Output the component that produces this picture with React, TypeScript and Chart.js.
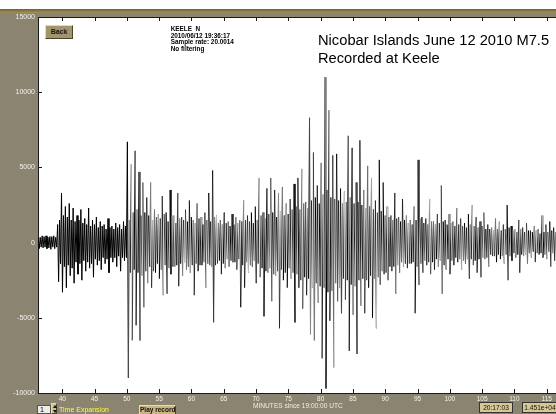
import React, { useEffect, useRef } from 'react';
import { Chart, registerables } from 'chart.js';

Chart.register(...registerables);

// Seismogram KEELE N, start 19:36:17 UTC; counts, one value every 0.15 min
const startMinute = 36.28;
const sampleStep = 0.15;

const preEvent = [300, -400, 350, -300, 450, -350, 400, -300, 450, -400, 350, -350, 400, -450, 400, -300, 450, -400, 350, -300];
const pWave = [1200, -2600, 1500, -1400, 3300, -3300, 1800, -1600, 2400, -3000, 1700, -1500, 2600, -2200, 1500, -1700, 2300, -2700, 1400, -1300, 1800, -2100, 1500, -1400, 2200, -2500, 1300, -1200, 1600, -1900, 1200, -1300, 2300, -1700, 1100, -1400, 1500, -2300, 1200, -1100, 1700, -1500, 1000, -1200, 1400, -1800, 1100, -1000, 1200, -1400, 900, -1100, 1600, -2000, 1000, -1000, 1100, -1300, 900, -1000, 1300, -1600, 1000, -900, 1200, -1900, 900, -1000];
const sWave = [1400, -1200, 1100, -1000, 6700, -9000, 1500, -2000, 5200, -6500, 2000, -1800, 6100, -5500, 2200, -2000, 4700, -6500, 1800, -2200, 4000, -4300, 2000, -1900];
const sCoda = [3000, -2700, 1800, -1600, 4000, -3000, 1500, -1900, 2200, -2000, 1700, -1400, 1900, -2400, 1600, -1800, 3100, -3500, 1900, -1500, 2000, -3400, 1400, -1700, 3500, -2100, 1800, -1600, 1800, -1600, 1300, -1500, 3300, -2900, 1600, -1400, 1700, -2200, 1500, -1300, 2200, -1800, 1400, -1600, 2800, -2000, 1700, -1500, 1500, -3500, 1300, -1400, 2600, -1900, 1600, -1500, 1700, -1500, 1200, -1300, 2000, -3000, 1500, -1400, 3300, -1500, 1400, -1600, 4800, -5300, 1700, -1500, 1800, -1400, 1300, -1200, 1500, -2100, 1200, -1400, 2000, -1700, 1300, -1100, 1400, -1600, 1100, -1200, 1900, -1300, 1200, -1300, 1700, -1800, 1300, -1100, 1500, -4300, 1400, -1500, 2800, -3000, 1500, -1300, 1800, -2000, 1400, -1500];
const surfaceWave = [2000, -1600, 1300, -1200, 2400, -2700, 1500, -1400, 4300, -2300, 1800, -1700, 2000, -4900, 1600, -1900, 3600, -2000, 1900, -1700, 4300, -3900, 2000, -2100, 3500, -2200, 1700, -1900, 3300, -5700, 2100, -1800, 3700, -2500, 1800, -2000, 2600, -3000, 1900, -1700, 2900, -2400, 2200, -2000, 3900, -5300, 2400, -2100, 4300, -3000, 2200, -2500, 4900, -4400, 2600, -2300, 2700, -3500, 2300, -2400, 8300, -6100, 2800, -3000, 6000, -6500, 3000, -2700, 3800, -4000, 2600, -2900, 5300, -7700, 3200, -3000, 11000, -9700, 3500, -3300, 8800, -5200, 3000, -3200, 5800, -8300, 2900, -2700, 5900, -3900, 2800, -3000, 3600, -4700, 2600, -2400, 3400, -3800, 2700, -2500, 7100, -7200, 3000, -2800, 6300, -4800, 2600, -2900, 4000, -7400, 2700, -2500, 6800];
const decay = [-4200, 2500, -2400, 3500, -4700, 2300, -2500, 5100, -3000, 2400, -2200, 4300, -5000, 2200, -2400, 2800, -5700, 2000, -2300, 5500, -2800, 2100, -1900, 4000, -2100, 1800, -2000, 2400, -2500, 1700, -1600, 1800, -1900, 1500, -1600, 3300, -3400, 1600, -1500, 1700, -2000, 1400, -1300, 2900, -1600, 1500, -1400, 1800, -1700, 1300, -1400, 1500, -1400, 1200, -1300, 2400, -4700, 1500, -1600, 5500, -2800, 1600, -1400, 1700, -2000, 1300, -1200, 1600, -1500, 1200, -1300, 2900, -2100, 1400, -1300, 1400, -1800, 1200, -1100, 1900, -1600, 1300, -1200, 3800, -3400, 1400, -1500, 1500, -1800, 1200, -1100, 1900, -2100, 1300, -1200, 1400, -1500, 1100, -1000, 2300, -1300, 1200, -1100, 1600, -1800, 1100, -1200, 1300, -1400, 1000, -1100];
const coda = [1900, -2400, 1200, -1100, 2500, -1500, 1100, -1200, 1700, -2000, 1000, -1100, 1400, -2300, 1100, -1000, 2000, -1100, 900, -1000, 1200, -1600, 900, -800, 1000, -900, 800, -900, 1600, -1300, 900, -800, 1400, -1100, 800, -900, 1200, -1400, 900, -800, 2500, -2500, 1000, -900, 1100, -1200, 800, -700, 900, -1000, 700, -800, 1500, -2000, 900, -800, 1000, -900, 700, -800, 1300, -1400, 800, -700, 800, -1000, 700, -600, 1100, -1300, 800, -700, 900, -800, 600, -700, 1800, -1000, 700, -800, 1200, -1100, 700, -600, 1400, -1600, 800, -700, 1000, -1200, 700, -600, 900, -1100, 600, -700, 1000, -900, 700, -600, 1100, -1000, 600, -700, 800, -1000, 600, -500];

const xTicks = [40, 45, 50, 55, 60, 65, 70, 75, 80, 85, 90, 95, 100, 105, 110, 115];
const yTicks = [-10000, -5000, 0, 5000, 10000, 15000];

const traceShades = ['#000000', '#6e6e6e', '#1a1a1a', '#a8a8a8', '#000000', '#4a4a4a', '#8c8c8c', '#262626', '#c4c4c4', '#3a3a3a', '#7a7a7a'];

const framePlugin = {
  id: 'frame',
  beforeDraw(chart: any) {
    const { ctx, chartArea: a } = chart;
    ctx.save();
    ctx.fillStyle = '#ffffff';
    ctx.fillRect(a.left, a.top, a.right - a.left, a.bottom - a.top);
    ctx.restore();
  },
  afterDraw(chart: any) {
    const { ctx, chartArea: a, scales } = chart;
    ctx.save();
    ctx.strokeStyle = '#1a1a1a';
    ctx.lineWidth = 1;
    ctx.beginPath();
    for (const v of xTicks) {
      const px = Math.round(scales.x.getPixelForValue(v)) + 0.5;
      ctx.moveTo(px, a.bottom);
      ctx.lineTo(px, a.bottom - 4);
      ctx.moveTo(px, a.top);
      ctx.lineTo(px, a.top + 4);
    }
    for (const v of yTicks) {
      const py = Math.round(scales.y.getPixelForValue(v)) + 0.5;
      ctx.moveTo(a.left, py);
      ctx.lineTo(a.left + 4, py);
    }
    const ty = Math.round(a.top) + 0.5;
    ctx.moveTo(a.left, ty);
    ctx.lineTo(a.right, ty);
    ctx.stroke();
    ctx.restore();
  },
};

const abs = (extra: any) => ({ position: 'absolute' as const, ...extra });

export default function App() {
  const ref = useRef<HTMLCanvasElement>(null);

  useEffect(() => {
    const trace = [...preEvent, ...pWave, ...sWave, ...sCoda, ...surfaceWave, ...decay, ...coda];
    const points = trace.map((v, i) => ({ x: startMinute + i * sampleStep, y: v }));
    const tickFont = { family: 'Arial, "Liberation Sans", sans-serif', size: 7 };
    const chart = new Chart(ref.current as HTMLCanvasElement, {
      type: 'line',
      data: {
        datasets: [
          {
            data: points,
            borderColor: '#000000',
            borderWidth: 1,
            pointRadius: 0,
            tension: 0,
            segment: {
              borderColor: (c: any) => (c.p0DataIndex < 92 ? '#000000' : traceShades[c.p0DataIndex % traceShades.length]),
            },
          },
        ],
      },
      options: {
        responsive: false,
        animation: false,
        devicePixelRatio: 1,
        layout: { padding: { top: 17, right: 22, left: 0, bottom: 0 } },
        plugins: { legend: { display: false }, tooltip: { enabled: false }, title: { display: false } },
        scales: {
          x: {
            type: 'linear',
            min: 36.24,
            max: 119.85,
            afterBuildTicks: (s: any) => {
              s.ticks = xTicks.map((v) => ({ value: v }));
            },
            afterFit: (s: any) => {
              s.height = 21;
            },
            grid: { display: false, drawTicks: false },
            border: { display: true, color: '#1a1a1a', width: 1 },
            ticks: { color: '#f2f2ee', font: { ...tickFont, size: 6.5 }, padding: 2, maxRotation: 0, autoSkip: false, callback: (v: any) => String(v) },
          },
          y: {
            type: 'linear',
            min: -10000,
            max: 15000,
            afterBuildTicks: (s: any) => {
              s.ticks = yTicks.map((v) => ({ value: v }));
            },
            afterFit: (s: any) => {
              s.width = 38;
            },
            grid: { display: false, drawTicks: false },
            border: { display: true, color: '#1a1a1a', width: 1 },
            ticks: { color: '#f2f2ee', font: tickFont, padding: 3, autoSkip: false, callback: (v: any) => String(v) },
          },
        },
      },
      plugins: [framePlugin],
    } as any);
    return () => chart.destroy();
  }, []);

  const font = 'Arial, "Liberation Sans", sans-serif';
  const bevel = { borderStyle: 'solid', borderWidth: 1, borderColor: '#e6dcb8 #4a4330 #4a4330 #e6dcb8', boxSizing: 'border-box' as const };

  return (
    <div style={{ position: 'fixed', left: 0, top: 0, width: 556, height: 414, overflow: 'hidden', background: '#8b8471', fontFamily: font }}>
      <canvas ref={ref} width={600} height={414} style={{ position: 'absolute', left: 0, top: 0, width: 600, height: 414 }} />
      <div style={abs({ left: 0, top: 0, width: 556, height: 9, background: '#ffffff' })} />
      <div style={abs({ left: 0, top: 9, width: 556, height: 4, background: 'linear-gradient(#6f5f33, #a8925a)' })} />

      <div style={abs({ left: 45, top: 25, width: 28, height: 14, background: '#a3956a', ...bevel, fontSize: 7, fontWeight: 'bold', color: '#1a1a1a', lineHeight: '12px', textAlign: 'center' })}>Back</div>

      <div style={abs({ left: 170.7, top: 25.8, fontSize: 6.4, fontWeight: 'bold', lineHeight: '6.8px', color: '#000', whiteSpace: 'pre' })}>
        {'KEELE  N\n2010/06/12 19:36:17\nSample rate: 20.0014\nNo filtering'}
      </div>

      <div style={abs({ left: 318, top: 33.4, fontSize: 14.7, lineHeight: '15px', color: '#000', whiteSpace: 'nowrap' })}>Nicobar Islands June 12 2010 M7.5</div>
      <div style={abs({ left: 318, top: 51.4, fontSize: 14.7, lineHeight: '15px', color: '#000', whiteSpace: 'nowrap' })}>Recorded at Keele</div>

      <div style={abs({ left: 37, top: 405, width: 14, height: 9, background: '#efece4', border: '1px solid #555', boxSizing: 'border-box', fontSize: 7, lineHeight: '7px', color: '#000', paddingLeft: 2 })}>1</div>
      <div style={abs({ left: 51, top: 403, width: 6, height: 11, background: '#c9bd93', ...bevel })}>
        <div style={abs({ left: 0.5, top: 1, width: 0, height: 0, borderLeft: '2px solid transparent', borderRight: '2px solid transparent', borderBottom: '3px solid #111' })} />
        <div style={abs({ left: 0.5, top: 5.5, width: 0, height: 0, borderLeft: '2px solid transparent', borderRight: '2px solid transparent', borderTop: '3px solid #111' })} />
      </div>
      <div style={abs({ left: 59, top: 405.6, fontSize: 7, lineHeight: '8px', color: '#ffff33', whiteSpace: 'nowrap' })}>Time Expansion</div>
      <div style={abs({ left: 139, top: 405, width: 37, height: 10, background: '#c7b682', ...bevel, fontSize: 6.5, fontWeight: 'bold', color: '#111', lineHeight: '8px', textAlign: 'center', whiteSpace: 'nowrap' })}>Play record</div>
      <div style={abs({ left: 253, top: 401.6, fontSize: 6.6, lineHeight: '8px', color: '#eeeeea', whiteSpace: 'nowrap' })}>MINUTES since 19:00:00 UTC</div>
      <div style={abs({ left: 479, top: 402, width: 34, height: 11, background: '#d6c894', border: '1px solid #333', boxSizing: 'border-box', fontSize: 6.6, color: '#111', lineHeight: '9px', textAlign: 'center' })}>20:17:03</div>
      <div style={abs({ left: 522, top: 402, width: 36, height: 11, background: '#d6c894', border: '1px solid #333', boxSizing: 'border-box', fontSize: 6.6, color: '#111', lineHeight: '9px', textAlign: 'center' })}>1.451e+04</div>
    </div>
  );
}
